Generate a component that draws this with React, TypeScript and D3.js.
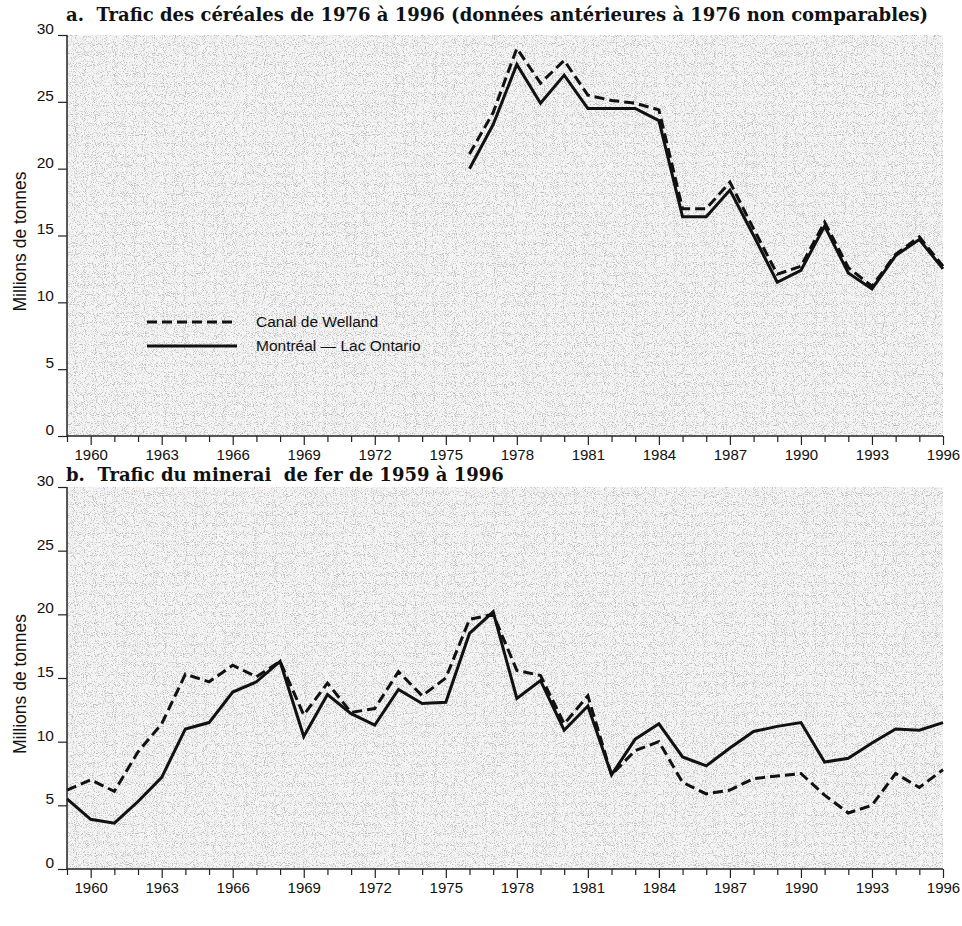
import React, { useEffect, useRef } from "react";
import * as d3 from "d3";

const WIDTH = 962;
const HEIGHT = 926;

// années et séries
const yearsA: number[] = d3.range(1976, 1997);
const wellandA: number[] = [21.1, 24.2, 29.0, 26.4, 28.1, 25.5, 25.1, 24.9, 24.4, 17.0, 17.0, 19.0, 15.5, 12.1, 12.7, 16.0, 12.6, 11.2, 13.6, 14.9, 12.7];
const montrealA: number[] = [20.0, 23.3, 27.8, 24.9, 27.0, 24.5, 24.5, 24.5, 23.6, 16.4, 16.4, 18.4, 15.0, 11.5, 12.4, 15.7, 12.2, 11.0, 13.5, 14.7, 12.5];

const yearsB: number[] = d3.range(1959, 1997);
const wellandB: number[] = [6.2, 7.0, 6.1, 9.2, 11.4, 15.3, 14.7, 16.0, 15.1, 16.3, 12.1, 14.6, 12.3, 12.6, 15.5, 13.6, 15.0, 19.6, 20.0, 15.6, 15.2, 11.4, 13.6, 7.4, 9.3, 10.0, 6.8, 5.9, 6.2, 7.1, 7.3, 7.5, 5.8, 4.4, 5.0, 7.5, 6.4, 7.8];
const montrealB: number[] = [5.5, 3.9, 3.6, 5.3, 7.2, 11.0, 11.5, 13.9, 14.7, 16.3, 10.4, 13.7, 12.2, 11.3, 14.1, 13.0, 13.1, 18.5, 20.2, 13.4, 14.8, 10.9, 12.8, 7.4, 10.2, 11.4, 8.8, 8.1, 9.5, 10.8, 11.2, 11.5, 8.4, 8.7, 9.9, 11.0, 10.9, 11.5];

const yTicks: number[] = [0, 5, 10, 15, 20, 25, 30];
const xTicks: number[] = d3.range(1959, 1997);
const titleA = "a.  Trafic des céréales de 1976 à 1996 (données antérieures à 1976 non comparables)";
const titleB = "b.  Trafic du minerai  de fer de 1959 à 1996";
const yLabel = "Millions de tonnes";
const legendLabels: string[] = ["Canal de Welland", "Montréal — Lac Ontario"];

const SANS = "'Liberation Sans', Arial, sans-serif";
const SERIF = "'DejaVu Serif', serif";

const App: React.FC = () => {
  const ref = useRef<SVGSVGElement | null>(null);

  useEffect(() => {
    if (!ref.current) return;
    const svg = d3.select(ref.current);
    svg.selectAll("*").remove();

    // texture grise du fond (pointillé)
    const defs = svg.append("defs");
    const f = defs.append("filter").attr("id", "grain").attr("x", 0).attr("y", 0).attr("width", 1).attr("height", 1);
    f.append("feTurbulence").attr("type", "fractalNoise").attr("baseFrequency", 1.1).attr("numOctaves", 1).attr("seed", 11).attr("result", "n");
    f.append("feColorMatrix").attr("in", "n").attr("type", "matrix")
      .attr("values", "0 0 0 0 0.4  0 0 0 0 0.4  0 0 0 0 0.4  5 0 0 0 -2.55");

    const x = d3.scaleLinear().domain([1959, 1996]).range([67, 943]);

    const panel = (y0: number, y30: number, years: number[], dashed: number[], solid: number[], title: string, titleY: number) => {
      const y = d3.scaleLinear().domain([0, 30]).range([y0, y30]);
      const g = svg.append("g");

      g.append("rect").attr("x", x(1959)).attr("y", y(30)).attr("width", x(1996) - x(1959)).attr("height", y(0) - y(30))
        .attr("fill", "#f5f5f5");
      g.append("rect").attr("x", x(1959)).attr("y", y(30)).attr("width", x(1996) - x(1959)).attr("height", y(0) - y(30))
        .attr("fill", "#fff").attr("filter", "url(#grain)").attr("opacity", 0.75);

      const line = d3.line<number>().x((_, i) => x(years[i])).y((d) => y(d));
      g.append("path").datum(dashed).attr("d", line).attr("fill", "none").attr("stroke", "#111")
        .attr("stroke-width", 3).attr("stroke-dasharray", "10,5");
      g.append("path").datum(solid).attr("d", line).attr("fill", "none").attr("stroke", "#111")
        .attr("stroke-width", 3).attr("stroke-linejoin", "miter");

      const ya = g.append("g").attr("transform", `translate(${x(1959)},0)`)
        .call(d3.axisLeft(y).tickValues(yTicks).tickSize(9).tickPadding(4).tickFormat(d3.format("d")));
      ya.attr("font-size", 15.5).attr("font-family", SANS);
      ya.select(".domain").attr("d", `M0,${y(30)}V${y(0)}`).attr("stroke", "#222").attr("stroke-width", 1.5);
      ya.selectAll("line").attr("stroke", "#222").attr("stroke-width", 1.2);
      ya.selectAll("text").attr("fill", "#111").attr("dy", "-0.1em");

      const xa = g.append("g").attr("transform", `translate(0,${y(0)})`)
        .call(d3.axisBottom(x).tickValues(xTicks).tickSize(6).tickPadding(5)
          .tickFormat((d) => ((+d - 1960) % 3 === 0 ? String(d) : "")));
      xa.attr("font-size", 15).attr("font-family", SANS);
      xa.select(".domain").attr("d", `M${x(1959)},0H${x(1996)}`).attr("stroke", "#222").attr("stroke-width", 1.5);
      xa.selectAll<SVGLineElement, number>("line").attr("stroke", "#222").attr("stroke-width", 1.2)
        .attr("y2", (d) => ((d - 1960) % 3 === 0 ? 9 : 6));
      xa.selectAll("text").attr("fill", "#111").attr("y", 13);

      g.append("text").attr("transform", `translate(26,${(y(0) + y(30)) / 2 + 6}) rotate(-90)`)
        .attr("text-anchor", "middle").attr("font-family", SANS).attr("font-size", 17.5).attr("fill", "#111").text(yLabel);

      g.append("text").attr("x", 66).attr("y", titleY).attr("font-family", SERIF).attr("font-weight", "bold")
        .attr("font-size", 18).attr("fill", "#111").style("white-space", "pre").text(title);
      return y;
    };

    panel(436, 35, yearsA, wellandA, montrealA, titleA, 21);
    panel(869, 487, yearsB, wellandB, montrealB, titleB, 481);

    // légende
    const lg = svg.append("g");
    [0, 1].forEach((i) => {
      const ly = 322 + i * 24;
      lg.append("line").attr("x1", 147).attr("x2", 237).attr("y1", ly).attr("y2", ly).attr("stroke", "#111")
        .attr("stroke-width", 3).attr("stroke-dasharray", i === 0 ? "10,5" : null);
      lg.append("text").attr("x", 256).attr("y", ly + 5).attr("font-family", SANS).attr("font-size", 15.5)
        .attr("fill", "#111").text(legendLabels[i]);
    });
  }, []);

  return (
    <svg ref={ref} width={WIDTH} height={HEIGHT}
      style={{ position: "absolute", left: 0, top: 0, background: "#fff" }} />
  );
};

export default App;
